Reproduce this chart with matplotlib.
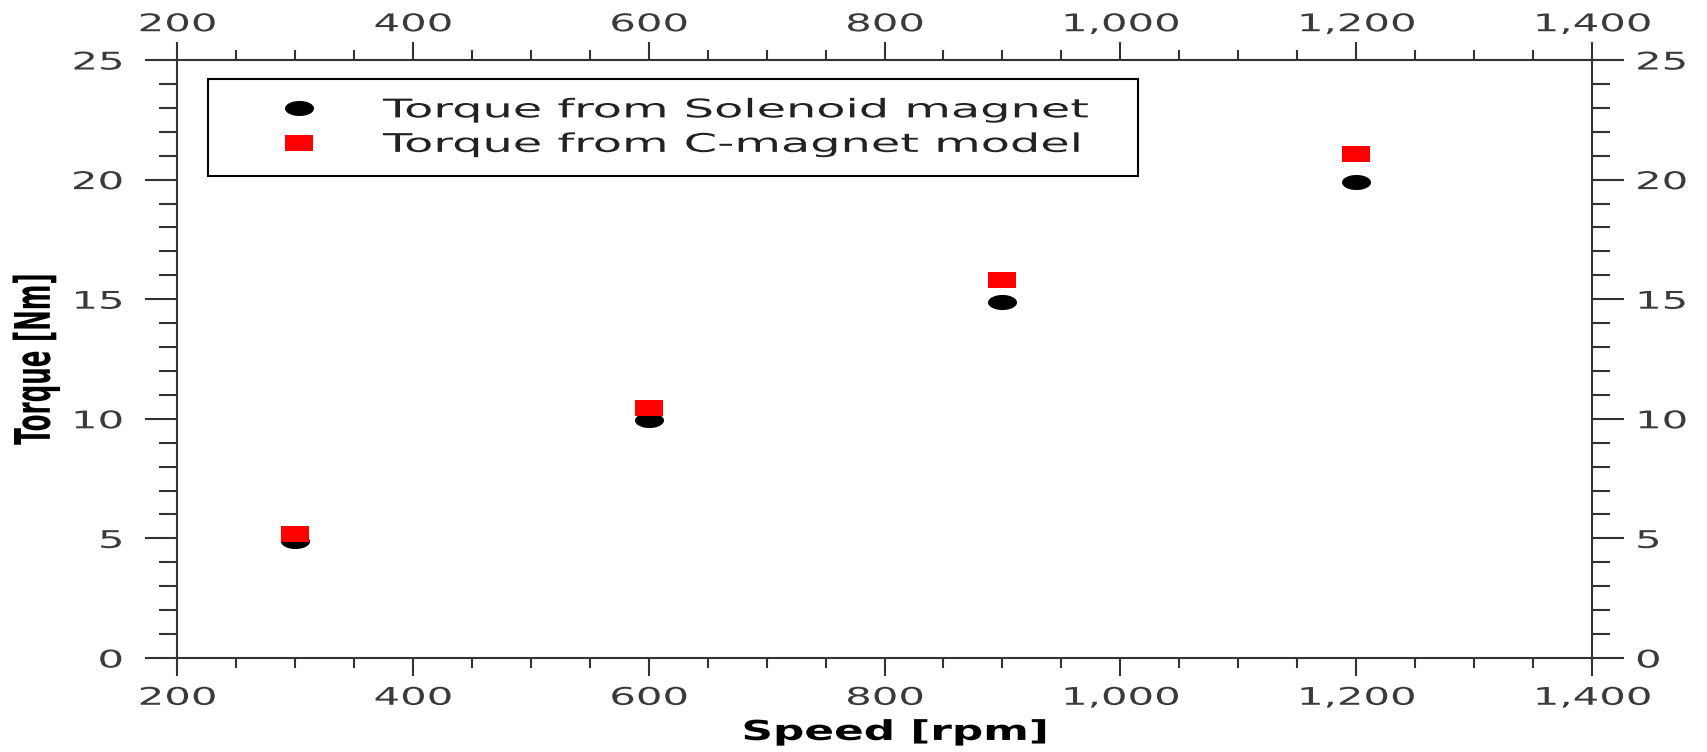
import numpy as np
import matplotlib
matplotlib.use("Agg")
import matplotlib.pyplot as plt
from matplotlib.path import Path
from matplotlib.patheffects import AbstractPathEffect
from matplotlib.transforms import Affine2D
from matplotlib.ticker import MultipleLocator, FixedLocator, FuncFormatter

# Measured torque versus rotor speed
speed_rpm = [300, 600, 900, 1200]
torque_solenoid = [4.9, 9.95, 14.9, 19.9]
torque_cmagnet = [5.18, 10.45, 15.82, 21.08]
series_labels = ["Torque from Solenoid magnet", "Torque from C-magnet model"]

x_ticks = [200, 400, 600, 800, 1000, 1200, 1400]
y_ticks = [0, 5, 10, 15, 20, 25]


class WideText(AbstractPathEffect):
    """Draw glyphs stretched horizontally about a point of their ink box."""

    def __init__(self, sx, anchor="center", dx=0.0, dy=0.0):
        super().__init__()
        self.sx, self.anchor, self.dx, self.dy = sx, anchor, dx, dy

    def draw_path(self, renderer, gc, tpath, affine, rgbFace=None):
        verts = affine.transform(tpath.vertices)
        if len(verts) == 0:
            return
        xs = verts[:, 0]
        if self.anchor == "left":
            x0 = xs.min()
        elif self.anchor == "right":
            x0 = xs.max()
        else:
            x0 = 0.5 * (xs.min() + xs.max())
        stretch = (Affine2D().translate(-x0, 0).scale(self.sx, 1)
                   .translate(x0 + self.dx, self.dy))
        renderer.draw_path(gc, tpath, affine + stretch, rgbFace)


# Flattened marker shapes
theta = np.linspace(0, 2 * np.pi, 41)
oval = Path(np.column_stack([np.cos(theta), 0.52 * np.sin(theta)]), closed=True)
slab = Path([[-1, -0.57], [1, -0.57], [1, 0.57], [-1, 0.57], [-1, -0.57]],
            closed=True)

W, H, DPI = 1707, 752, 100
fig = plt.figure(figsize=(W / DPI, H / DPI), dpi=DPI, facecolor="white")
ax = fig.add_axes([177 / W, 1 - 658 / H, 1415 / W, 598 / H])

ax.plot(speed_rpm, torque_solenoid, linestyle="none", marker=oval,
        markersize=20.9, markerfacecolor="black", markeredgewidth=0,
        label=series_labels[0], zorder=3)
ax.plot(speed_rpm, torque_cmagnet, linestyle="none", marker=slab,
        markersize=20.2, markerfacecolor="#ff0000", markeredgewidth=0,
        label=series_labels[1], zorder=4)

ax.set_xlim(200, 1400)
ax.set_ylim(0, 25)
ax.xaxis.set_major_locator(FixedLocator(x_ticks))
ax.yaxis.set_major_locator(FixedLocator(y_ticks))
ax.xaxis.set_minor_locator(MultipleLocator(50))
ax.yaxis.set_minor_locator(MultipleLocator(1))
ax.xaxis.set_major_formatter(FuncFormatter(lambda v, p: f"{v:,.0f}"))
ax.yaxis.set_major_formatter(FuncFormatter(lambda v, p: f"{v:.0f}"))

for sp in ax.spines.values():
    sp.set_color("#333333")
    sp.set_linewidth(1.5)

ax.tick_params(which="both", direction="out", top=True, right=True,
               labeltop=True, labelright=True, color="#333333",
               labelcolor="#3a3a3a", labelsize=17.5, width=1.5)
ax.tick_params(axis="x", which="major", length=13, pad=7)
ax.tick_params(axis="x", which="minor", length=7.5)
ax.tick_params(axis="y", which="major", length=23, pad=8)
ax.tick_params(axis="y", which="minor", length=13)

fig.canvas.draw()
for t in ax.xaxis.get_major_ticks():
    t.label1.set_path_effects([WideText(1.72, "center")])
    t.label2.set_path_effects([WideText(1.72, "center", dy=-4)])
for t in ax.yaxis.get_major_ticks():
    t.label1.set_path_effects([WideText(1.72, "right", dx=-11)])
    t.label2.set_path_effects([WideText(1.72, "left")])

ax.set_xlabel("Speed [rpm]", fontsize=19.7, fontweight="bold", color="black",
              va="baseline", path_effects=[WideText(1.6, "center")])
ax.xaxis.set_label_coords(0.507, -0.137)
ax.set_ylabel("Torque [Nm]", fontsize=17.7, fontweight="bold", color="black",
              va="center", ha="center", path_effects=[WideText(2.0, "center")])
ax.yaxis.set_label_coords(-0.0996, 0.5)

leg = ax.legend(loc="upper left", bbox_to_anchor=(0.0219, 0.0, 0.657, 0.968),
                mode="expand", borderaxespad=0, numpoints=1,
                prop={"size": 18.5}, handlelength=5.66, handletextpad=0.44,
                borderpad=0.71, labelspacing=0.33, fancybox=False,
                framealpha=1, edgecolor="black")
leg.get_frame().set_linewidth(1.5)
for txt in leg.get_texts():
    txt.set_color("#222222")
    txt.set_path_effects([WideText(1.86, "left")])

fig.savefig("out.png", dpi=DPI, facecolor="white")
